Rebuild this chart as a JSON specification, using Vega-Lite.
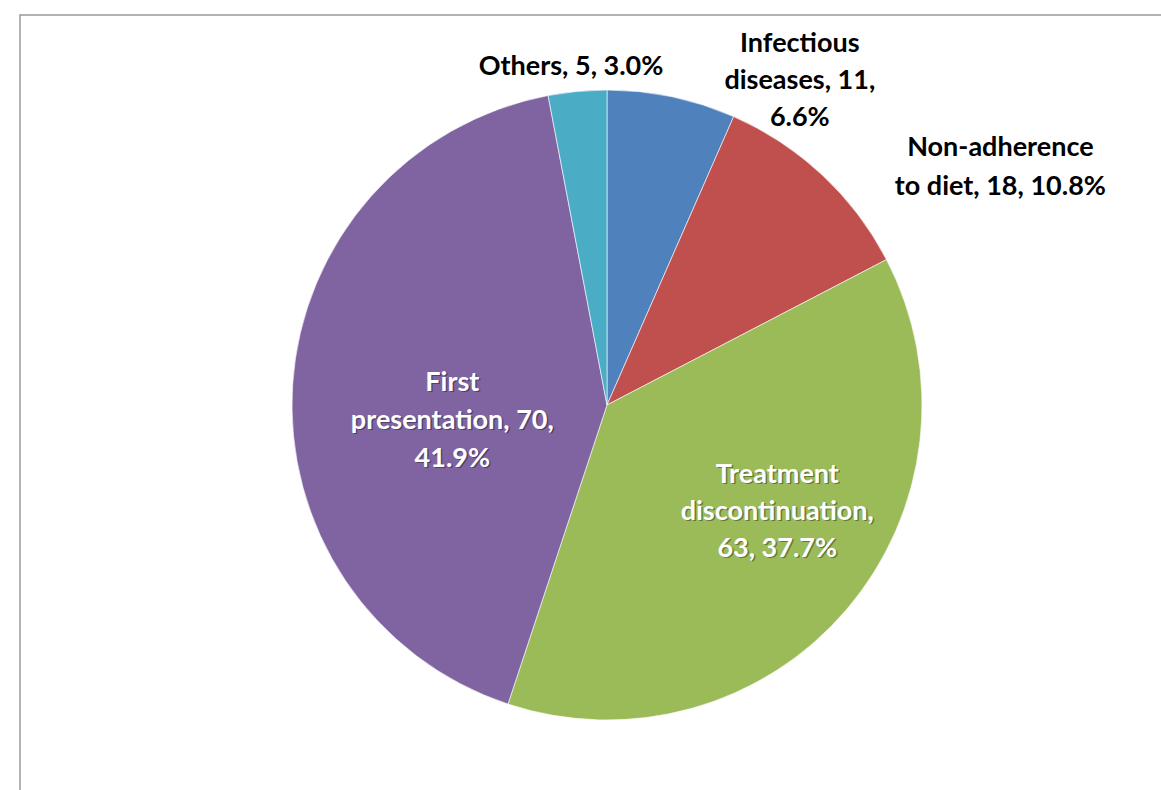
{
  "$schema": "https://vega.github.io/schema/vega-lite/v6.json",
  "width": 1161,
  "height": 790,
  "autosize": {"type": "fit", "contains": "padding"},
  "padding": {"left": 20, "top": 15, "right": -33, "bottom": -5},
  "background": "white",
  "view": {"stroke": "#999999", "strokeWidth": 1.5, "fill": "white"},
  "data": {
    "values": [
      {"cause": "Infectious diseases", "n": 11, "order": 1, "label": "Infectious\ndiseases, 11,\n6.6%"},
      {"cause": "Non-adherence to diet", "n": 18, "order": 2, "label": "Non-adherence\nto diet, 18, 10.8%"},
      {"cause": "Treatment discontinuation", "n": 63, "order": 3, "label": "Treatment\ndiscontinuation,\n63, 37.7%"},
      {"cause": "First presentation", "n": 70, "order": 4, "label": "First\npresentation, 70,\n41.9%"},
      {"cause": "Others", "n": 5, "order": 5, "label": "Others, 5, 3.0%"}
    ]
  },
  "encoding": {
    "theta": {"field": "n", "type": "quantitative", "stack": true},
    "order": {"field": "order", "type": "quantitative"}
  },
  "layer": [
    {
      "mark": {"type": "arc", "outerRadius": 315, "stroke": "#ffffff", "strokeWidth": 1, "strokeOpacity": 0.6},
      "encoding": {
        "color": {
          "field": "cause", "type": "nominal", "legend": null,
          "scale": {
            "domain": ["Infectious diseases", "Non-adherence to diet", "Treatment discontinuation", "First presentation", "Others"],
            "range": ["#4F81BD", "#C0504D", "#9BBB59", "#8064A2", "#4BACC6"]
          }
        }
      }
    },
    {
      "mark": {"type": "text", "radius": 330, "dx": 125, "dy": -38, "font": "Lato", "fontWeight": "bold", "fontSize": 27, "lineHeight": 37, "lineBreak": "\n", "align": "center", "baseline": "middle", "fill": "#000000"},
      "encoding": {"text": {"condition": {"test": "datum.cause === 'Infectious diseases'", "field": "label"}, "value": ""}}
    },
    {
      "mark": {"type": "text", "radius": 340, "dx": 161, "dy": -9, "font": "Lato", "fontWeight": "bold", "fontSize": 27, "lineHeight": 39, "lineBreak": "\n", "align": "center", "baseline": "middle", "fill": "#000000"},
      "encoding": {"text": {"condition": {"test": "datum.cause === 'Non-adherence to diet'", "field": "label"}, "value": ""}}
    },
    {
      "mark": {"type": "text", "radius": 340, "dx": -4, "dy": 0, "font": "Lato", "fontWeight": "bold", "fontSize": 27, "lineHeight": 37, "lineBreak": "\n", "align": "center", "baseline": "middle", "fill": "#000000"},
      "encoding": {"text": {"condition": {"test": "datum.cause === 'Others'", "field": "label"}, "value": ""}}
    },
    {
      "mark": {"type": "text", "radius": 200, "dx": 19.5, "dy": -58.5, "font": "Lato", "fontWeight": "bold", "fontSize": 27, "lineHeight": 37, "lineBreak": "\n", "align": "center", "baseline": "middle", "fill": "#000000", "opacity": 0.35},
      "encoding": {"text": {"condition": {"test": "datum.cause === 'Treatment discontinuation'", "field": "label"}, "value": ""}}
    },
    {
      "mark": {"type": "text", "radius": 200, "dx": 18, "dy": -60, "font": "Lato", "fontWeight": "bold", "fontSize": 27, "lineHeight": 37, "lineBreak": "\n", "align": "center", "baseline": "middle", "fill": "#ffffff"},
      "encoding": {"text": {"condition": {"test": "datum.cause === 'Treatment discontinuation'", "field": "label"}, "value": ""}}
    },
    {
      "mark": {"type": "text", "radius": 155, "dx": 1.5, "dy": -10.5, "font": "Lato", "fontWeight": "bold", "fontSize": 27, "lineHeight": 38, "lineBreak": "\n", "align": "center", "baseline": "middle", "fill": "#000000", "opacity": 0.35},
      "encoding": {"text": {"condition": {"test": "datum.cause === 'First presentation'", "field": "label"}, "value": ""}}
    },
    {
      "mark": {"type": "text", "radius": 155, "dx": 0, "dy": -12, "font": "Lato", "fontWeight": "bold", "fontSize": 27, "lineHeight": 38, "lineBreak": "\n", "align": "center", "baseline": "middle", "fill": "#ffffff"},
      "encoding": {"text": {"condition": {"test": "datum.cause === 'First presentation'", "field": "label"}, "value": ""}}
    }
  ]
}
